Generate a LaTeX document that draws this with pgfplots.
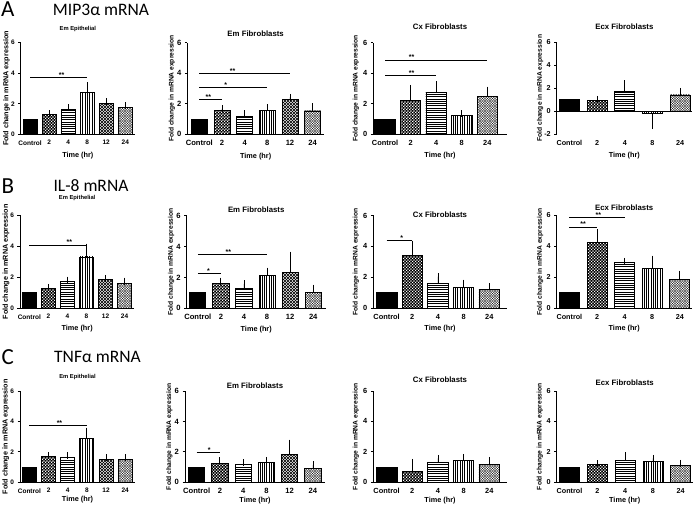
\documentclass[border=0pt]{standalone}
\usepackage{fontspec}
\setmainfont{Liberation Sans}
\newfontfamily\calib{Carlito}
\usepackage{pgfplots}
\pgfplotsset{compat=1.18}
\usetikzlibrary{patterns}

\pgfdeclarepatternformonly{wholes}{\pgfqpoint{0pt}{0pt}}{\pgfqpoint{2.8pt}{2.8pt}}{\pgfqpoint{2.8pt}{2.8pt}}{%
  \pgfpathrectangle{\pgfqpoint{0.1pt}{0.1pt}}{\pgfqpoint{1.2pt}{1.2pt}}%
  \pgfpathrectangle{\pgfqpoint{1.5pt}{1.5pt}}{\pgfqpoint{1.2pt}{1.2pt}}%
  \pgfusepath{fill}}
\pgfdeclarepatternformonly{hl}{\pgfqpoint{-1pt}{-1pt}}{\pgfqpoint{3.5pt}{1pt}}{\pgfqpoint{2.3pt}{2.3pt}}{%
  \pgfsetlinewidth{0.75pt}%
  \pgfpathmoveto{\pgfqpoint{-1pt}{0pt}}\pgfpathlineto{\pgfqpoint{3.5pt}{0pt}}%
  \pgfusepath{stroke}}
\pgfdeclarepatternformonly{vl}{\pgfqpoint{-1pt}{-1pt}}{\pgfqpoint{1pt}{3.5pt}}{\pgfqpoint{2.3pt}{2.3pt}}{%
  \pgfsetlinewidth{0.75pt}%
  \pgfpathmoveto{\pgfqpoint{0pt}{-1pt}}\pgfpathlineto{\pgfqpoint{0pt}{3.5pt}}%
  \pgfusepath{stroke}}
\pgfdeclarepatternformonly{dxa}{\pgfqpoint{-0.5pt}{-0.5pt}}{\pgfqpoint{3.5pt}{3.5pt}}{\pgfqpoint{3pt}{3pt}}{%
  \pgfsetlinewidth{0.55pt}%
  \pgfpathmoveto{\pgfqpoint{-0.2pt}{-0.2pt}}\pgfpathlineto{\pgfqpoint{3.2pt}{3.2pt}}%
  \pgfpathmoveto{\pgfqpoint{-0.2pt}{3.2pt}}\pgfpathlineto{\pgfqpoint{3.2pt}{-0.2pt}}%
  \pgfusepath{stroke}}
\pgfdeclarepatternformonly{dxb}{\pgfqpoint{-0.5pt}{-0.5pt}}{\pgfqpoint{3pt}{3pt}}{\pgfqpoint{2.5pt}{2.5pt}}{%
  \pgfsetlinewidth{0.3pt}%
  \pgfpathmoveto{\pgfqpoint{-0.2pt}{-0.2pt}}\pgfpathlineto{\pgfqpoint{2.7pt}{2.7pt}}%
  \pgfpathmoveto{\pgfqpoint{-0.2pt}{2.7pt}}\pgfpathlineto{\pgfqpoint{2.7pt}{-0.2pt}}%
  \pgfusepath{stroke}}

\pgfplotsset{
  panel/.style={
    scale only axis, anchor=south west, clip=false,
    axis lines*=left,
    axis line style={line width=0.9pt,-},
    ymin=0, ymax=6, ytick={0,2,4,6},
    y tick style={line width=0.9pt, black},
    tick align=outside, major tick length=2.5pt,
    x tick style={draw=none},
    /pgf/number format/assume math mode=true,
    xlabel={Time (hr)},
    ylabel={Fold change in mRNA expression},
    title style={at={(axis description cs:0.5,1)}, anchor=center},
    xlabel style={font=\bfseries\fontsize{7.3}{8}\selectfont},
  },
  colone/.style={panel,
    ticklabel style={font=\bfseries\fontsize{6.5}{7}\selectfont},
    title style={font=\bfseries\fontsize{5.8}{6}\selectfont},
    ylabel style={font=\bfseries\fontsize{7.2}{8}\selectfont, at={(axis description cs:-0.123,0.5)}, anchor=center},
    xtick={0,...,5}, xticklabels={Control,2,4,8,12,24}},
  coltwo/.style={panel,
    ticklabel style={font=\bfseries\fontsize{7.6}{8}\selectfont},
    title style={font=\bfseries\fontsize{7.8}{8}\selectfont},
    ylabel style={font=\bfseries\fontsize{6.7}{7}\selectfont, at={(axis description cs:-0.112,0.5)}, anchor=center},
    xtick={0,...,5}, xticklabels={Control,2,4,8,12,24}},
  colthree/.style={panel,
    ticklabel style={font=\bfseries\fontsize{7.4}{8}\selectfont},
    title style={font=\bfseries\fontsize{7.8}{8}\selectfont},
    ylabel style={font=\bfseries\fontsize{6.7}{7}\selectfont, at={(axis description cs:-0.13,0.5)}, anchor=center},
    xtick={0,...,4}, xticklabels={Control,2,4,8,24}},
  colfour/.style={panel,
    ticklabel style={font=\bfseries\fontsize{7.2}{8}\selectfont},
    title style={font=\bfseries\fontsize{7.8}{8}\selectfont},
    ylabel style={font=\bfseries\fontsize{6.7}{7}\selectfont, at={(axis description cs:-0.123,0.5)}, anchor=center},
    xtick={0,...,4}, xticklabels={Control,2,4,8,24}},
  rowA/.style={xlabel style={yshift=0pt}},
  rowB/.style={xlabel style={yshift=1pt}},
  rowC/.style={xlabel style={yshift=3.5pt}},
  bb/.style={ybar, bar shift=0pt, draw=black, line width=0.8pt},
  bC/.style={bb, fill=black},
  b2/.style={bb, preaction={fill=black}, pattern=wholes, pattern color=white},
  b4/.style={bb, pattern=hl},
  b8/.style={bb, pattern=vl},
  b12/.style={bb, pattern=dxa},
  b24/.style={bb, pattern=dxb},
  eb/.style={/pgfplots/error bars/y dir=plus, /pgfplots/error bars/y explicit,
    /pgfplots/error bars/error bar style={line width=0.8pt, black},
    /pgfplots/error bars/error mark options={black, line width=0.8pt, mark size=3.5pt}},
  ebm/.style={/pgfplots/error bars/y dir=minus, /pgfplots/error bars/y explicit,
    /pgfplots/error bars/error bar style={line width=0.8pt, black},
    /pgfplots/error bars/error mark options={black, line width=0.8pt, mark size=3.5pt}},
  sig/.style={black, line width=0.7pt, mark=none, forget plot},
}
\tikzset{stars/.style={anchor=base, font=\bfseries\fontsize{7}{8}\selectfont, inner sep=0pt}}

\begin{document}
\begin{tikzpicture}
\path[use as bounding box] (0pt,0pt) rectangle (696pt,506pt);

% Row labels
\node[font=\calib\fontsize{23}{23}\selectfont] at (7.8pt,496.8pt) {A};
\node[font=\calib\fontsize{17.5}{18}\selectfont] at (101pt,496pt) {MIP3α mRNA};
\node[font=\calib\fontsize{23}{23}\selectfont] at (7.8pt,319.5pt) {B};
\node[font=\calib\fontsize{17.5}{18}\selectfont] at (91pt,320.5pt) {IL-8 mRNA};
\node[font=\calib\fontsize{23}{23}\selectfont] at (7.8pt,149.3pt) {C};
\node[font=\calib\fontsize{17.5}{18}\selectfont] at (97.5pt,149pt) {TNFα mRNA};

% ===== Row A =====
\begin{axis}[colone, rowA, at={(20.7pt,371.7pt)}, width=114.3pt, height=91.6pt,
  xmin=-0.49, xmax=5.51, bar width=0.73, title={Em Epithelial}, title style={yshift=7.7pt}]
\addplot[bC] coordinates {(0,1)};
\addplot[b2,eb] coordinates {(1,1.31) +- (0,0.03)};
\addplot[b4,eb] coordinates {(2,1.64) +- (0,0.11)};
\addplot[b8,eb] coordinates {(3,2.77) +- (0,0.42)};
\addplot[b12,eb] coordinates {(4,2.03) +- (0,0.09)};
\addplot[b24,eb] coordinates {(5,1.75) +- (0,0.13)};
\addplot[sig] coordinates {(0,3.73) (3,3.73)};
\node[stars] at (axis cs:1.66,3.73) {**};
\end{axis}

\begin{axis}[coltwo, rowA, at={(187.3pt,371.7pt)}, width=136.7pt, height=91.6pt,
  xmin=-0.53, xmax=5.5, bar width=0.7, title={Em Fibroblasts}, title style={yshift=2.7pt}]
\addplot[bC] coordinates {(0,1)};
\addplot[b2,eb] coordinates {(1,1.55) +- (0,0.11)};
\addplot[b4,eb] coordinates {(2,1.16) +- (0,0.19)};
\addplot[b8,eb] coordinates {(3,1.59) +- (0,0.16)};
\addplot[b12,eb] coordinates {(4,2.29) +- (0,0.13)};
\addplot[b24,eb] coordinates {(5,1.53) +- (0,0.26)};
\addplot[sig] coordinates {(0,4.0) (4,4.0)};
\node[stars] at (axis cs:1.47,4.0) {**};
\addplot[sig] coordinates {(0,3.08) (3,3.08)};
\node[stars] at (axis cs:1.17,3.08) {*};
\addplot[sig] coordinates {(0,2.31) (1,2.31)};
\node[stars] at (axis cs:0.4,2.31) {**};
\end{axis}

\begin{axis}[colthree, rowA, at={(373.3pt,371.7pt)}, width=133.4pt, height=91.6pt,
  xmin=-0.46, xmax=4.76, bar width=0.8, title={Cx Fibroblasts}, title style={yshift=10pt}]
\addplot[bC] coordinates {(0,1)};
\addplot[b2,eb] coordinates {(1,2.2) +- (0,0.81)};
\addplot[b4,eb] coordinates {(2,2.77) +- (0,0.46)};
\addplot[b8,eb] coordinates {(3,1.22) +- (0,0.13)};
\addplot[b24,eb] coordinates {(4,2.45) +- (0,0.45)};
\addplot[sig] coordinates {(0,4.87) (4,4.87)};
\node[stars] at (axis cs:1.04,4.87) {**};
\addplot[sig] coordinates {(0,3.86) (2,3.86)};
\node[stars] at (axis cs:1.04,3.86) {**};
\end{axis}

\begin{axis}[colfour, rowA, at={(556.7pt,371.7pt)}, width=135.3pt, height=92pt,
  ymin=-2, ymax=6, ytick={-2,0,2,4,6}, x axis line style={draw=none},
  xmin=-0.46, xmax=4.43, bar width=0.72, title={Ecx Fibroblasts}, title style={yshift=9.6pt}]
\addplot[bC] coordinates {(0,1)};
\addplot[b2,eb] coordinates {(1,0.93) +- (0,0.1)};
\addplot[b4,eb] coordinates {(2,1.74) +- (0,0.64)};
\addplot[b8,ebm] coordinates {(3,-0.17) +- (0,1.08)};
\addplot[b24,eb] coordinates {(4,1.42) +- (0,0.32)};
\addplot[black, line width=0.9pt, mark=none, forget plot] coordinates {(-0.46,0) (4.43,0)};
\end{axis}

% ===== Row B =====
\begin{axis}[colone, rowB, at={(20pt,197.7pt)}, width=114.3pt, height=92.8pt,
  xmin=-0.49, xmax=5.51, bar width=0.73, title={Em Epithelial}, title style={yshift=11pt}]
\addplot[bC] coordinates {(0,1)};
\addplot[b2,eb] coordinates {(1,1.28) +- (0,0.07)};
\addplot[b4,eb] coordinates {(2,1.76) +- (0,0.06)};
\addplot[b8,eb] coordinates {(3,3.32) +- (0,0.64)};
\addplot[b12,eb] coordinates {(4,1.86) +- (0,0.07)};
\addplot[b24,eb] coordinates {(5,1.6) +- (0,0.16)};
\addplot[sig] coordinates {(0,4.1) (3,4.1)};
\node[stars] at (axis cs:2.1,4.1) {**};
\end{axis}

\begin{axis}[coltwo, rowB, at={(186.7pt,197.7pt)}, width=139pt, height=92.8pt,
  xmin=-0.48, xmax=5.54, bar width=0.7, title={Em Fibroblasts}, title style={yshift=0pt}]
\addplot[bC] coordinates {(0,1)};
\addplot[b2,eb] coordinates {(1,1.58) +- (0,0.17)};
\addplot[b4,eb] coordinates {(2,1.30) +- (0,0.28)};
\addplot[b8,eb] coordinates {(3,2.12) +- (0,0.28)};
\addplot[b12,eb] coordinates {(4,2.32) +- (0,1.12)};
\addplot[b24,eb] coordinates {(5,1.04) +- (0,0.26)};
\addplot[sig] coordinates {(0,3.46) (3,3.46)};
\node[stars] at (axis cs:1.32,3.46) {**};
\addplot[sig] coordinates {(0,2.27) (1,2.27)};
\node[stars] at (axis cs:0.46,2.27) {*};
\end{axis}

\begin{axis}[colthree, rowB, at={(373.3pt,197.7pt)}, width=133.4pt, height=92.8pt,
  xmin=-0.52, xmax=4.68, bar width=0.8, title={Cx Fibroblasts}, title style={yshift=-5pt}]
\addplot[bC] coordinates {(0,1)};
\addplot[b2,eb] coordinates {(1,3.43) +- (0,0.72)};
\addplot[b4,eb] coordinates {(2,1.62) +- (0,0.43)};
\addplot[b8,eb] coordinates {(3,1.36) +- (0,0.26)};
\addplot[b24,eb] coordinates {(4,1.23) +- (0,0.15)};
\addplot[sig] coordinates {(0,4.38) (1,4.38)};
\node[stars] at (axis cs:0.59,4.38) {*};
\end{axis}

\begin{axis}[colfour, rowB, at={(556.7pt,197.7pt)}, width=135pt, height=92.8pt,
  xmin=-0.46, xmax=4.43, bar width=0.72, title={Ecx Fibroblasts}, title style={yshift=1.7pt}]
\addplot[bC] coordinates {(0,1)};
\addplot[b2,eb] coordinates {(1,4.29) +- (0,0.58)};
\addplot[b4,eb] coordinates {(2,2.97) +- (0,0.06)};
\addplot[b8,eb] coordinates {(3,2.56) +- (0,0.62)};
\addplot[b24,eb] coordinates {(4,1.88) +- (0,0.33)};
\addplot[sig] coordinates {(0,5.89) (2,5.89)};
\node[stars] at (axis cs:1.05,5.89) {**};
\addplot[sig] coordinates {(0,5.26) (1,5.26)};
\node[stars] at (axis cs:0.5,5.26) {**};
\end{axis}

% ===== Row C =====
\begin{axis}[colone, rowC, at={(20pt,23.7pt)}, width=115pt, height=91.3pt,
  xmin=-0.49, xmax=5.51, bar width=0.73, title={Em Epithelial}, title style={yshift=8pt}]
\addplot[bC] coordinates {(0,1)};
\addplot[b2,eb] coordinates {(1,1.68) +- (0,0.07)};
\addplot[b4,eb] coordinates {(2,1.66) +- (0,0.09)};
\addplot[b8,eb] coordinates {(3,2.91) +- (0,0.46)};
\addplot[b12,eb] coordinates {(4,1.53) +- (0,0.09)};
\addplot[b24,eb] coordinates {(5,1.53) +- (0,0.07)};
\addplot[sig] coordinates {(0,3.76) (3,3.76)};
\node[stars] at (axis cs:1.57,3.76) {**};
\end{axis}

\begin{axis}[coltwo, rowC, at={(185pt,23.7pt)}, width=140pt, height=91.3pt,
  xmin=-0.5, xmax=5.52, bar width=0.7, title={Em Fibroblasts}, title style={yshift=-1pt}]
\addplot[bC] coordinates {(0,1)};
\addplot[b2,eb] coordinates {(1,1.27) +- (0,0.13)};
\addplot[b4,eb] coordinates {(2,1.18) +- (0,0.11)};
\addplot[b8,eb] coordinates {(3,1.29) +- (0,0.15)};
\addplot[b12,eb] coordinates {(4,1.84) +- (0,0.74)};
\addplot[b24,eb] coordinates {(5,0.92) +- (0,0.22)};
\addplot[sig] coordinates {(0,1.97) (1,1.97)};
\node[stars] at (axis cs:0.54,1.97) {*};
\end{axis}

\begin{axis}[colthree, rowC, at={(373.3pt,23.7pt)}, width=133.4pt, height=91.3pt,
  xmin=-0.52, xmax=4.68, bar width=0.8, title={Cx Fibroblasts}, title style={yshift=5pt}]
\addplot[bC] coordinates {(0,1)};
\addplot[b2,eb] coordinates {(1,0.70) +- (0,0.61)};
\addplot[b4,eb] coordinates {(2,1.31) +- (0,0.26)};
\addplot[b8,eb] coordinates {(3,1.42) +- (0,0.22)};
\addplot[b24,eb] coordinates {(4,1.2) +- (0,0.24)};
\end{axis}

\begin{axis}[colfour, rowC, at={(556.7pt,23.7pt)}, width=136pt, height=91.3pt,
  xmin=-0.46, xmax=4.43, bar width=0.72, title={Ecx Fibroblasts}, title style={yshift=2pt}]
\addplot[bC] coordinates {(0,1)};
\addplot[b2,eb] coordinates {(1,1.2) +- (0,0.02)};
\addplot[b4,eb] coordinates {(2,1.46) +- (0,0.27)};
\addplot[b8,eb] coordinates {(3,1.35) +- (0,0.22)};
\addplot[b24,eb] coordinates {(4,1.09) +- (0,0.16)};
\end{axis}

\end{tikzpicture}
\end{document}
